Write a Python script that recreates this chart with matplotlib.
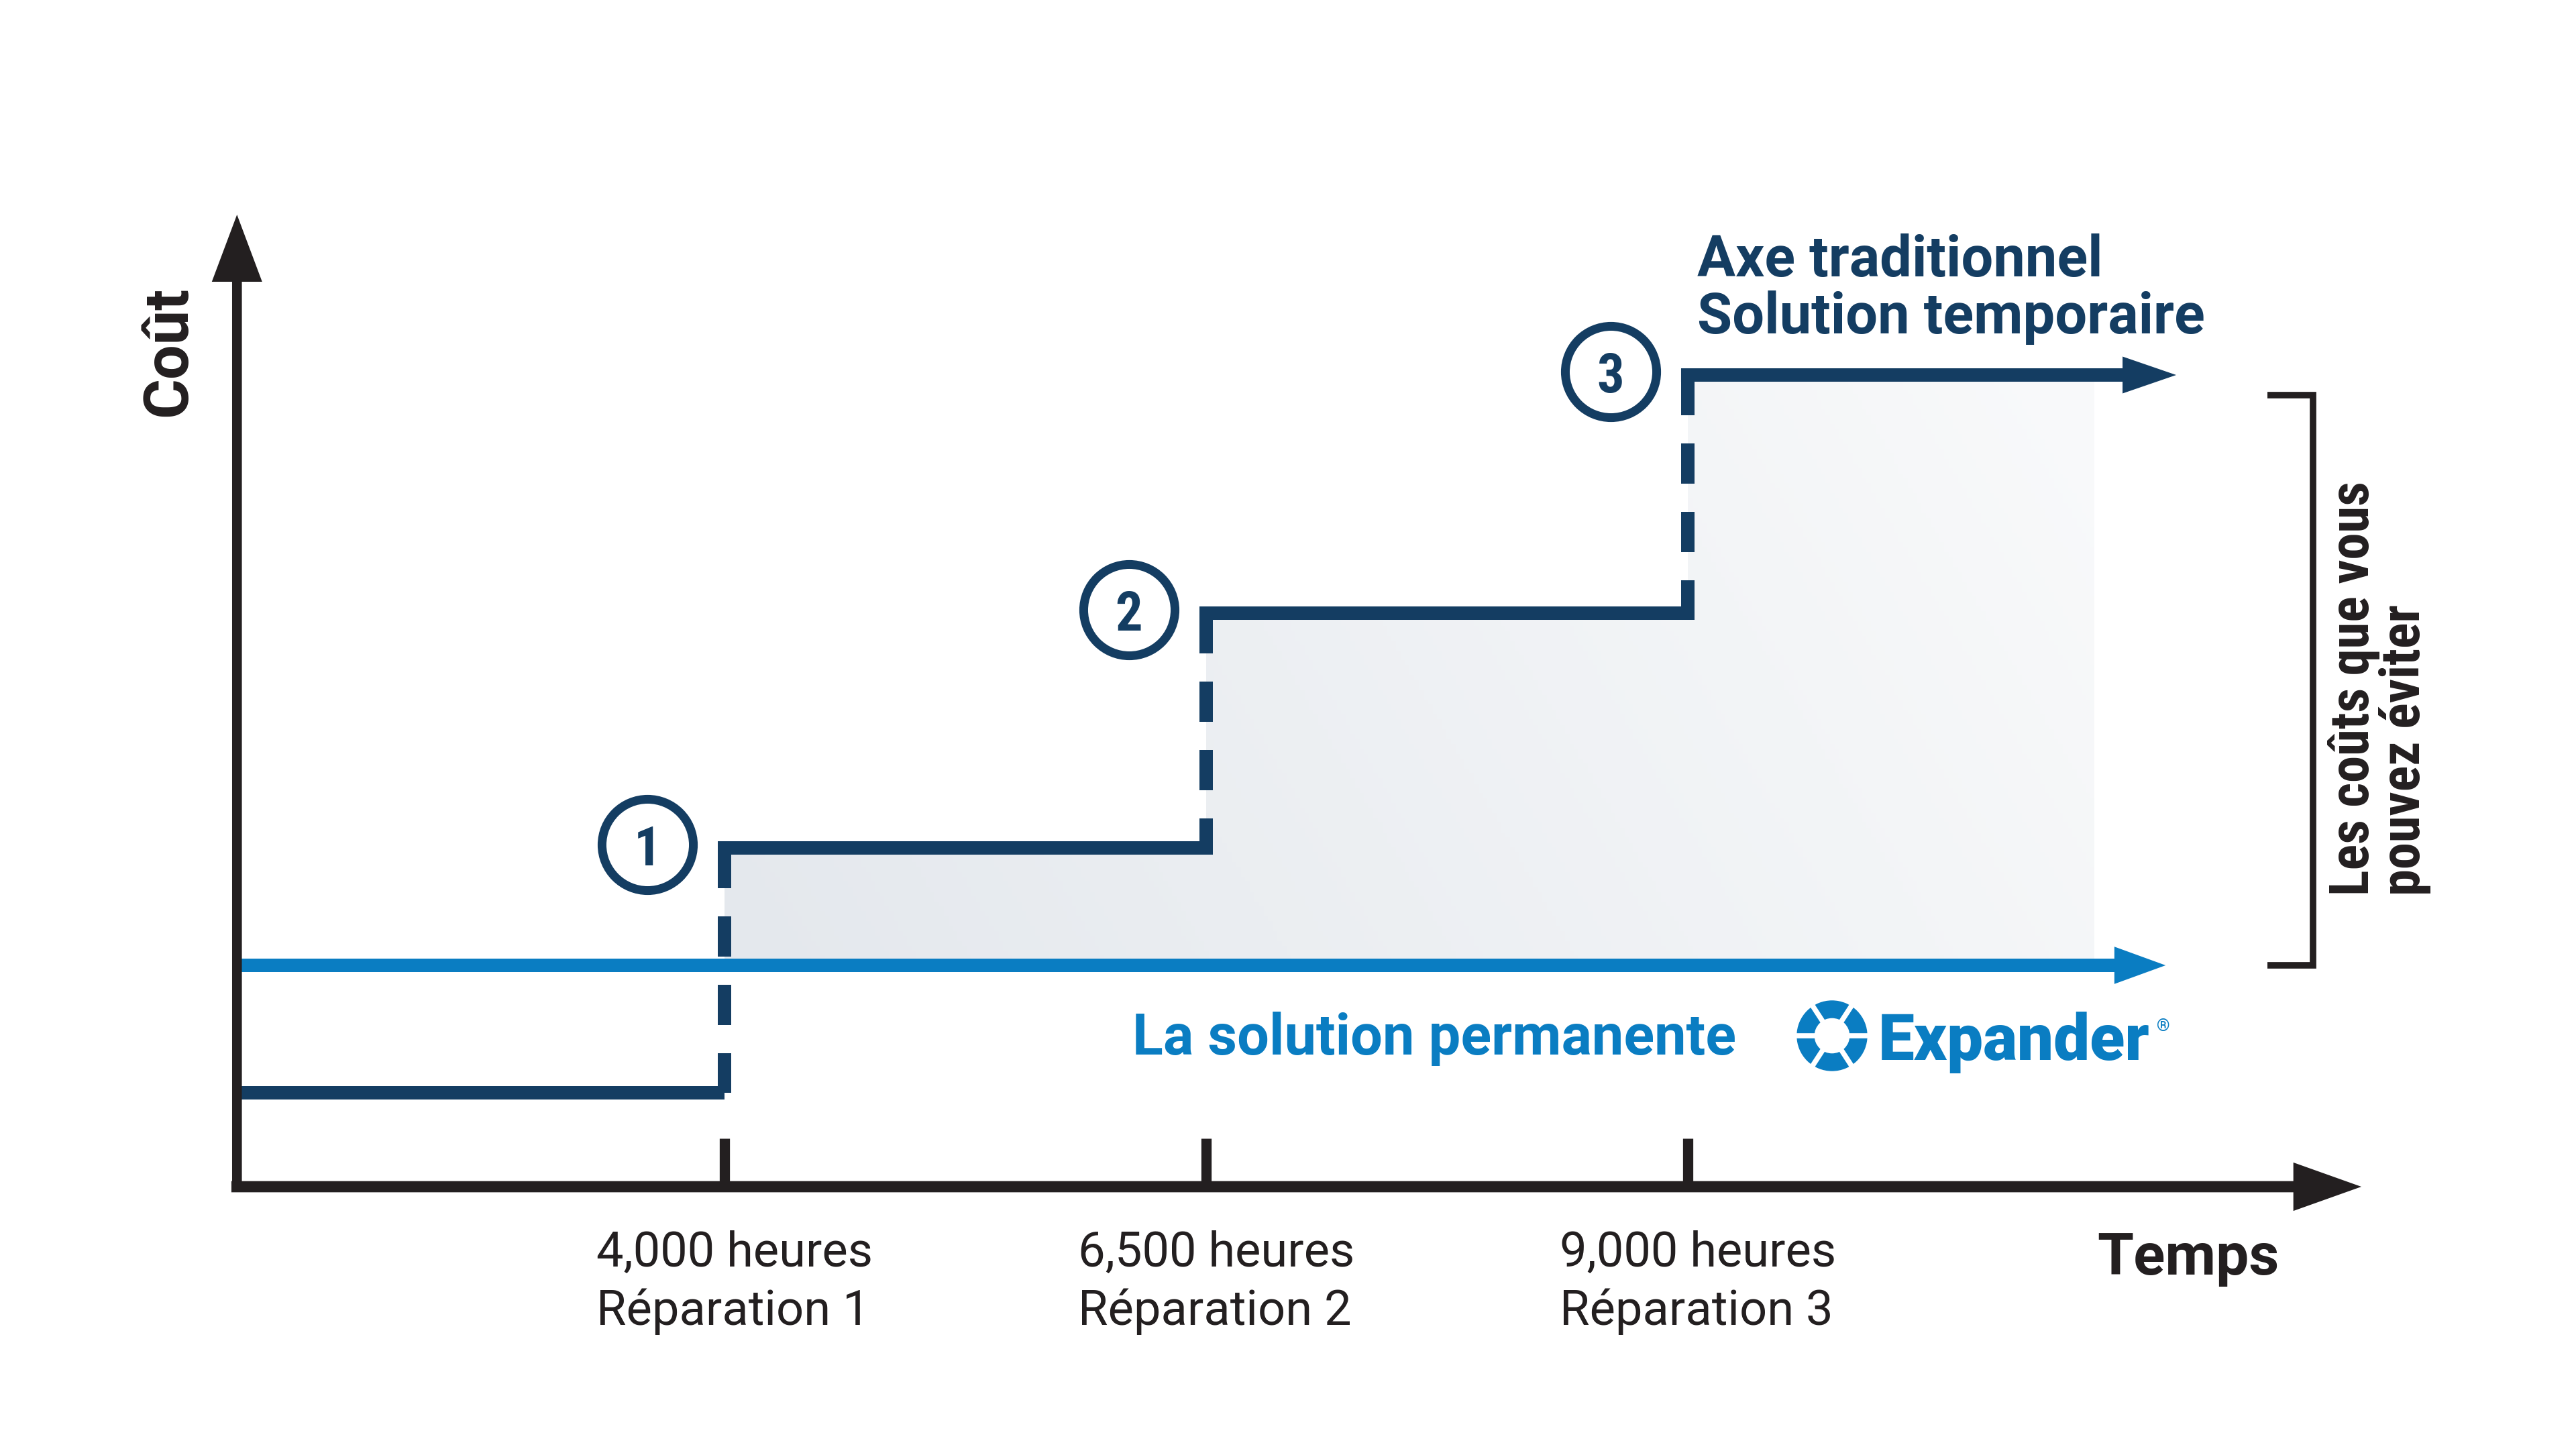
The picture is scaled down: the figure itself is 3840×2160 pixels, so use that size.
import numpy as np
import matplotlib.pyplot as plt
from matplotlib import font_manager
from matplotlib.colors import LinearSegmentedColormap
from matplotlib.patches import Wedge

names = {f.name for f in font_manager.fontManager.ttflist}
cond = "Roboto Condensed" if "Roboto Condensed" in names else "Roboto"
plt.rcParams["font.family"] = ["Roboto", "DejaVu Sans"]

# data (time in operating hours, cost in arbitrary units)
repair_hours = [4000, 6500, 9000]
hour_labels = ["4,000 heures", "6,500 heures", "9,000 heures"]
repair_labels = ["Réparation 1", "Réparation 2", "Réparation 3"]
repair_marks = ["1", "2", "3"]
traditional_cost = [1.4, 5.05, 8.55, 12.1]
expander_cost = 3.3
avoidable_top = 11.8
start_hours = 1470
horizon = 11110

NAVY = "#143d62"
BLUE = "#0a7dc2"
INK = "#231f20"

fig = plt.figure(figsize=(38.4, 21.6), dpi=100)
ax = fig.add_axes([0, 0, 1, 1])
ax.axis("off")


def arrow(x0, y0, x1, y1, color, lw, hl, hw, z, cap="projecting"):
    ax.annotate("", xy=(x1, y1), xytext=(x0, y0), zorder=z,
                arrowprops=dict(arrowstyle="-", lw=lw, color=color, shrinkA=0,
                                shrinkB=hl * 0.7, capstyle=cap))
    ax.annotate("", xy=(x1, y1), xytext=(x0, y0), zorder=z,
                arrowprops=dict(arrowstyle=f"-|>,head_length={hl},head_width={hw}",
                                mutation_scale=1, lw=0, color=color, shrinkA=0, shrinkB=0))


# shaded avoidable cost area
xs = repair_hours + [horizon]
tops = traditional_cost[1:] + [traditional_cost[-1]]
poly = ax.fill_between(xs, expander_cost, tops, step="post", color="none", lw=0)
gx, gy = np.meshgrid(np.linspace(0, 1, 300), np.linspace(0, 1, 120))
fade = LinearSegmentedColormap.from_list("fade", ["#e4e8ed", "#f9fafb"])
im = ax.imshow(0.8 * gx + 0.2 * gy, extent=(xs[0], xs[-1], expander_cost, max(tops)),
               origin="lower", aspect="auto", cmap=fade, vmin=0, vmax=1, zorder=1)
im.set_clip_path(poly.get_paths()[0], transform=ax.transData)

# traditional shaft: solid plateaus, dashed jumps
edges = [start_hours] + repair_hours
for i in range(3):
    ax.plot([edges[i], edges[i + 1]], [traditional_cost[i]] * 2, color=NAVY, lw=14.4,
            solid_capstyle="butt" if i == 0 else "projecting", zorder=4)
for i, h in enumerate(repair_hours):
    ax.plot([h, h], [traditional_cost[i + 1], traditional_cost[i]], color=NAVY, lw=14.4,
            ls=(0, (3, 2.1)), dash_capstyle="butt", zorder=4)
arrow(repair_hours[-1], traditional_cost[-1], 11535, traditional_cost[-1], NAVY, 14.4, 57.6, 19.8, 4)

# expander line
arrow(start_hours, expander_cost, 11480, expander_cost, BLUE, 14.4, 55, 20, 5, cap="butt")

# axes
arrow(start_hours, 0, start_hours, 14.49, INK, 10.5, 72, 27, 6)
arrow(start_hours, 0, 12496, 0, INK, 12, 73, 26, 6)
for h in repair_hours:
    ax.plot([h, h], [0, 0.72], color=INK, lw=11, solid_capstyle="butt", zorder=6)

# repair markers
for h, c, m in zip(repair_hours, traditional_cost[1:], repair_marks):
    ax.plot(h - 400, c + 0.05, marker="o", ms=98, mfc="white", mec=NAVY, mew=9.4, zorder=7)
    ax.text(h - 400, c + 0.05, m, fontsize=58, color=NAVY, family=cond, fontweight="semibold",
            ha="center", va="center_baseline", zorder=8)

# tick labels
for h, hl, rl in zip(repair_hours, hour_labels, repair_labels):
    ax.text(h - 665, -1.19, hl, fontsize=52, color=INK, ha="left", va="baseline")
    ax.text(h - 665, -2.06, rl, fontsize=52, color=INK, ha="left", va="baseline")

ax.text(11597, -1.31, "Temps", fontsize=63, fontweight="bold", color=INK, ha="center", va="baseline")
ax.text(1204, 12.45, "Coût", fontsize=66, fontweight="bold", color=INK, rotation=90,
        rotation_mode="anchor", ha="center", va="baseline")

ax.text(9049, 13.57, "Axe traditionnel", fontsize=61, fontweight="bold", color=NAVY, ha="left", va="baseline")
ax.text(9049, 12.72, "Solution temporaire", fontsize=61, fontweight="bold", color=NAVY, ha="left", va="baseline")
ax.text(6117, 1.97, "La solution permanente", fontsize=61, fontweight="bold", color=BLUE, ha="left", va="baseline")

# avoidable cost bracket
ax.plot([12008, 12245, 12245, 12008], [avoidable_top, avoidable_top, expander_cost, expander_cost],
        color=INK, lw=7, solid_joinstyle="miter", solid_capstyle="butt", zorder=6)
ax.text(12535, 4.34, "Les coûts que vous", fontsize=58, fontweight="bold", family=cond, color=INK,
        rotation=90, rotation_mode="anchor", ha="left", va="baseline")
ax.text(12800, 4.34, "pouvez éviter", fontsize=58, fontweight="bold", family=cond, color=INK,
        rotation=90, rotation_mode="anchor", ha="left", va="baseline")

# Expander logo
ax.text(9989, 1.89, "Expander", fontsize=69, fontweight="black", color=BLUE, ha="left", va="baseline")
ax.text(11434, 2.39, "®", fontsize=18, fontweight="bold", color=BLUE, ha="left", va="center")
lax = fig.add_axes([(2731 - 60) / 3840, (2160 - 1544 - 60) / 2160, 120 / 3840, 120 / 2160])
lax.set_xlim(-60, 60)
lax.set_ylim(-60, 60)
lax.set_aspect("equal")
lax.axis("off")
lax.add_patch(Wedge((0, 0), 52, 0, 360, width=25, color=BLUE))
for a in [0, 57, 123, 180, 237, 303]:
    r = np.radians(a)
    lax.plot([0, 60 * np.cos(r)], [0, 60 * np.sin(r)], color="white", lw=5.5)

ax.set_xlim(240, 13610)
ax.set_ylim(-3.91, 17.69)

plt.savefig("out.png", dpi=100, facecolor="white")
